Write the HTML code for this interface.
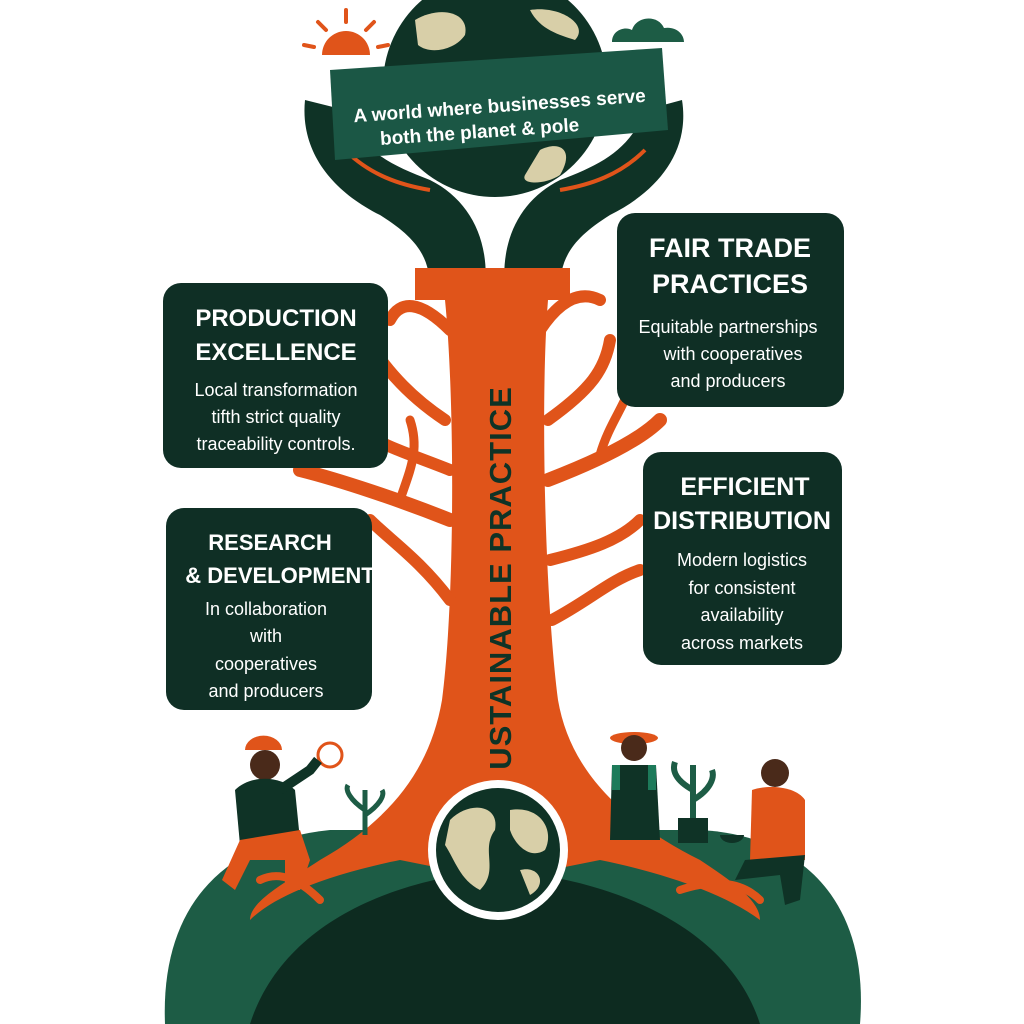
<!DOCTYPE html>
<html><head><meta charset="utf-8"><style>
html,body{margin:0;padding:0;background:#fff;}
svg{display:block}
.bt{font-family:"Liberation Sans",sans-serif;font-weight:bold;fill:#fff;text-anchor:middle}
.bd{font-family:"Liberation Sans",sans-serif;fill:#fff;text-anchor:middle}
</style></head><body>
<svg width="1024" height="1024" viewBox="0 0 1024 1024" xmlns="http://www.w3.org/2000/svg">
<path d="M165 1024 C160 900 230 840 330 830 L700 830 C800 835 870 900 860 1024 Z" fill="#1d5c45"/>
<path d="M250 1024 C280 930 380 880 500 870 C620 880 730 930 760 1024 Z" fill="#0d2b20"/>
<path d="M322 55 A24 24 0 0 1 370 55 Z" fill="#e0541a"/>
<g stroke="#e0541a" stroke-width="4" stroke-linecap="round">
<line x1="346" y1="10" x2="346" y2="22"/><line x1="318" y1="22" x2="326" y2="30"/><line x1="374" y1="22" x2="366" y2="30"/><line x1="304" y1="45" x2="314" y2="47"/><line x1="388" y1="45" x2="378" y2="47"/></g>
<path d="M612 42 C612 30 625 26 632 30 C636 16 658 14 664 28 C676 26 684 34 684 42 Z" fill="#1d5c45"/>
<circle cx="495" cy="85" r="112" fill="#0f3326"/>
<path d="M415 20 C440 5 470 12 465 35 C455 50 430 55 418 45 Z" fill="#d8cfa8"/>
<path d="M530 10 C560 5 590 25 575 40 C560 35 540 30 530 10 Z" fill="#d8cfa8"/>
<path d="M540 150 C560 140 575 150 560 175 C545 185 520 185 525 175 Z" fill="#d8cfa8"/>
<path d="M305 100 C300 150 330 190 380 215 C420 240 430 260 430 290 L485 290 C490 240 470 200 430 180 C390 165 360 150 345 110 Z" fill="#0f3326"/>
<path d="M682 100 C690 150 660 190 610 215 C570 240 560 260 560 290 L505 290 C500 240 520 200 560 180 C600 165 630 150 645 110 Z" fill="#0f3326"/>
<path d="M345 150 C370 175 400 185 430 190" stroke="#e0541a" stroke-width="4" fill="none"/>
<path d="M645 150 C620 175 590 185 560 190" stroke="#e0541a" stroke-width="4" fill="none"/>
<path d="M330 70 L662 48 L668 130 L335 160 Z" fill="#1b5745"/>
<text class="bt" font-size="19" transform="translate(500,112) rotate(-4)">A world where businesses serve</text>
<text class="bt" font-size="19" transform="translate(480,138) rotate(-4)">both   the planet &amp; pole</text>
<g fill="#e0541a">
<rect x="415" y="268" width="155" height="32"/>
<path d="M445 300 L548 300 C540 400 545 600 558 700 C570 770 620 820 700 860 C730 880 760 900 760 920 C720 890 650 870 600 860 L550 870 L450 870 L400 860 C350 870 280 890 250 920 C250 900 290 880 320 860 C390 820 430 770 442 700 C455 600 455 400 445 300 Z"/>
</g>
<g stroke="#e0541a" stroke-linecap="round" fill="none">
<path d="M450 330 C420 300 400 300 390 320" stroke-width="12"/>
<path d="M445 420 C400 390 380 360 360 330" stroke-width="12"/>
<path d="M450 470 C400 450 360 440 340 410" stroke-width="12"/>
<path d="M450 520 C400 500 340 480 300 470" stroke-width="14"/>
<path d="M450 600 C420 560 390 540 370 520" stroke-width="12"/>
<path d="M400 500 C410 470 420 450 410 420" stroke-width="9"/>
<path d="M540 330 C560 300 580 290 600 300" stroke-width="12"/>
<path d="M548 420 C590 390 605 370 610 340" stroke-width="12"/>
<path d="M548 480 C600 460 640 440 660 420" stroke-width="14"/>
<path d="M550 560 C590 550 620 540 640 520" stroke-width="12"/>
<path d="M552 620 C590 600 610 580 640 570" stroke-width="12"/>
<path d="M600 455 C610 420 630 400 630 380" stroke-width="9"/>
<path d="M320 900 C300 880 280 870 260 880" stroke-width="8"/>
<path d="M680 890 C710 880 740 880 760 900" stroke-width="8"/>
</g>
<text font-family="Liberation Sans,sans-serif" font-weight="bold" font-size="31" fill="#0f3326" text-anchor="middle" transform="translate(511,578) rotate(-90)" letter-spacing="1">USTAINABLE PRACTICE</text>
<circle cx="498" cy="850" r="70" fill="#fff"/>
<circle cx="498" cy="850" r="62" fill="#0f3326"/>
<path d="M450 820 C470 800 500 805 495 830 C480 850 500 870 480 890 C460 880 455 860 445 845 Z" fill="#d8cfa8"/>
<path d="M510 810 C540 805 555 830 545 850 C530 860 515 845 510 830 Z" fill="#d8cfa8"/>
<path d="M520 870 C540 865 548 885 530 895 Z" fill="#d8cfa8"/>
<rect x="163" y="283" width="225" height="185" rx="18" fill="#0f2f25"/>
<text class="bt" font-size="24" x="276" y="326">PRODUCTION</text>
<text class="bt" font-size="24" x="276" y="360">EXCELLENCE</text>
<text class="bd" font-size="18" x="276" y="396">Local transformation</text>
<text class="bd" font-size="18" x="276" y="423">tifth strict quality</text>
<text class="bd" font-size="18" x="276" y="450">traceability controls.</text>
<rect x="166" y="508" width="206" height="202" rx="18" fill="#0f2f25"/>
<text class="bt" font-size="22" x="270" y="550">RESEARCH</text>
<text class="bt" font-size="22" x="280" y="583">&amp; DEVELOPMENT</text>
<text class="bd" font-size="18" x="266" y="615">In collaboration</text>
<text class="bd" font-size="18" x="266" y="642">with</text>
<text class="bd" font-size="18" x="266" y="670">cooperatives</text>
<text class="bd" font-size="18" x="266" y="697">and producers</text>
<rect x="617" y="213" width="227" height="194" rx="18" fill="#0f2f25"/>
<text class="bt" font-size="27" x="730" y="257">FAIR TRADE</text>
<text class="bt" font-size="27" x="730" y="293">PRACTICES</text>
<text class="bd" font-size="18" x="728" y="333">Equitable partnerships</text>
<text class="bd" font-size="18" x="733" y="360">with cooperatives</text>
<text class="bd" font-size="18" x="728" y="387">and producers</text>
<rect x="643" y="452" width="199" height="213" rx="18" fill="#0f2f25"/>
<text class="bt" font-size="25" x="745" y="495">EFFICIENT</text>
<text class="bt" font-size="25" x="742" y="529">DISTRIBUTION</text>
<text class="bd" font-size="18" x="742" y="566">Modern logistics</text>
<text class="bd" font-size="18" x="742" y="594">for consistent</text>
<text class="bd" font-size="18" x="742" y="621">availability</text>
<text class="bd" font-size="18" x="742" y="649">across markets</text>
<circle cx="330" cy="755" r="12" fill="none" stroke="#e0541a" stroke-width="3"/>
<path d="M245 750 A18 14 0 0 1 282 750 Z" fill="#e0541a"/>
<circle cx="265" cy="765" r="15" fill="#4a2a1a"/>
<path d="M235 790 C250 775 280 775 295 790 L300 840 L240 845 Z" fill="#0f3326"/>
<path d="M280 790 L310 770 L318 760" stroke="#0f3326" stroke-width="10" fill="none"/>
<path d="M240 840 L300 830 L310 860 L300 890 L285 890 L285 860 L250 860 L235 890 L222 880 Z" fill="#e0541a"/>
<path d="M365 835 L365 790 M365 810 C350 800 345 790 348 785 M365 815 C380 805 385 795 382 790" stroke="#1d5c45" stroke-width="5" fill="none"/>
<path d="M693 830 L693 765 M693 790 C675 780 672 770 675 762 M693 800 C710 790 715 778 712 770" stroke="#1d5c45" stroke-width="6" fill="none"/>
<rect x="678" y="818" width="30" height="25" fill="#0f3326"/>
<ellipse cx="634" cy="738" rx="24" ry="6" fill="#e0541a"/>
<circle cx="634" cy="748" r="13" fill="#4a2a1a"/>
<path d="M612 765 L656 765 L660 840 L610 840 Z" fill="#0f3326"/>
<path d="M612 765 L620 765 L620 790 L612 790 Z M648 765 L656 765 L656 790 L648 790 Z" fill="#1d7a5a"/>
<circle cx="775" cy="773" r="14" fill="#4a2a1a"/>
<path d="M752 790 C765 785 795 785 805 800 L805 860 L750 860 Z" fill="#e0541a"/>
<path d="M745 860 L805 855 L800 900 L785 905 L780 875 L735 880 Z" fill="#0f3326"/>
<path d="M720 835 A12 8 0 0 0 744 835 Z" fill="#0f3326"/>
</svg>
</body></html>
